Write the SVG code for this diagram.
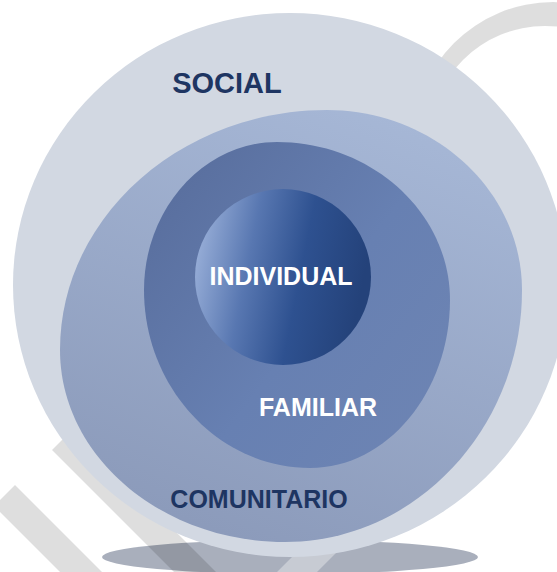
<svg xmlns="http://www.w3.org/2000/svg" width="557" height="572" viewBox="0 0 557 572">
<defs>
<style>
.lbl{font-family:"Liberation Sans",Arial,sans-serif;font-weight:bold;text-anchor:middle}
.dark{fill:#1e3562}
.light{fill:#ffffff}
.wm{fill:#000;fill-opacity:0.13}
</style>
<linearGradient id="gCom" x1="0.7" y1="0" x2="0.3" y2="1">
<stop offset="0" stop-color="#a6b7d6"/>
<stop offset="1" stop-color="#8b9aba"/>
</linearGradient>
<linearGradient id="gFam" x1="0" y1="0" x2="1" y2="0.8">
<stop offset="0" stop-color="#566b9a"/>
<stop offset="0.6" stop-color="#6780b2"/>
<stop offset="1" stop-color="#6d84b3"/>
</linearGradient>
<linearGradient id="gInd" x1="0" y1="0.1" x2="1" y2="0.3">
<stop offset="0" stop-color="#a2b7de"/>
<stop offset="0.35" stop-color="#5877b1"/>
<stop offset="0.65" stop-color="#2e5190"/>
<stop offset="1" stop-color="#24427a"/>
</linearGradient>
<clipPath id="shClip"><ellipse cx="290" cy="557" rx="188" ry="17"/></clipPath>
</defs>
<rect width="557" height="572" fill="#ffffff"/>
<ellipse id="shadow" cx="290" cy="557" rx="188" ry="17" fill="#a9afbc"/>
<g id="watermark">
<path class="wm" d="M429,142 A116,116 0 0 1 661,142 L693,142 A132,132 0 0 0 413,142 Z"/>
<polygon class="wm" points="15,485 118,588 76,588 -6,506"/>
<polygon class="wm" points="52,450 73,429 266,622 224,622"/>
<polygon fill="#ffffff" fill-opacity="0.35" clip-path="url(#shClip)" points="277,572 330,519 370,519 317,572 300,590 260,590"/>
</g>
<g id="social">
<ellipse cx="290" cy="285" rx="277" ry="272" fill="#d2d8e2"/>
<text class="lbl dark" x="227" y="93" font-size="29">SOCIAL</text>
</g>
<g id="comunitario">
<path d="M327,110 C434,110 522,191 522,290 C522,429 415,542 285,542 C161,542 60,456 60,350 C60,218 180,110 327,110 Z" fill="url(#gCom)"/>
<text class="lbl dark" x="259" y="508" font-size="25">COMUNITARIO</text>
</g>
<g id="familiar">
<path d="M277,142 C372,142 450,213 450,300 C450,392 387,468 310,468 C219,468 144,388 144,290 C144,209 204,142 277,142 Z" fill="url(#gFam)"/>
<text class="lbl light" x="318" y="416" font-size="25">FAMILIAR</text>
</g>
<g id="individual">
<circle cx="283" cy="277" r="88" fill="url(#gInd)"/>
<text class="lbl light" x="281" y="285" font-size="25">INDIVIDUAL</text>
</g>
<g id="connectors"></g>
</svg>
